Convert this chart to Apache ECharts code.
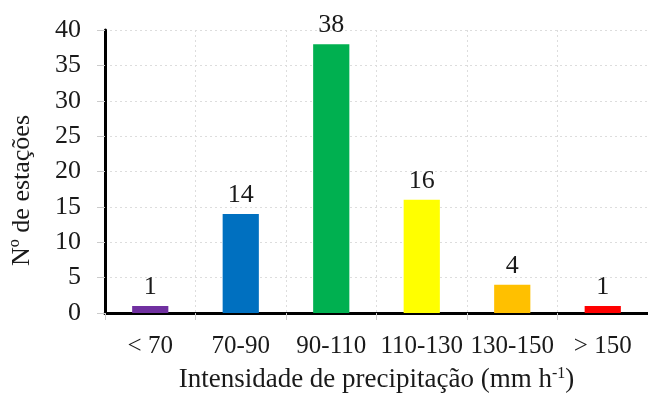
<!DOCTYPE html>
<html><head><meta charset="utf-8">
<script src="https://cdn.jsdelivr.net/npm/echarts@6/dist/echarts.min.js"></script>
<style>html,body{margin:0;padding:0;background:#fff}#c{width:648px;height:398px}</style>
</head><body><div id="c"></div>
<script>
const categories = ['< 70', '70-90', '90-110', '110-130', '130-150', '> 150'];
const counts = [1, 14, 38, 16, 4, 1];
const barColors = ['#7030A0', '#0070C0', '#00B050', '#FFFF00', '#FFC000', '#FF0000'];
const yTicks = [0, 5, 10, 15, 20, 25, 30, 35, 40];

const font = 'Liberation Serif, Times New Roman, serif';
const txt = '#1a1a1a';
const chart = echarts.init(document.getElementById('c'), null, {renderer: 'canvas'});
chart.setOption({
  animation: false,
  grid: {left: 105, top: 30, width: 546, height: 285, containLabel: false},
  xAxis: {
    type: 'category', data: categories,
    axisLine: {lineStyle: {color: '#000', width: 3}},
    axisTick: {show: true, alignWithLabel: false, length: 7, lineStyle: {color: '#ccc'}},
    axisLabel: {color: txt, fontFamily: font, fontSize: 25, margin: 21, interval: 0},
    splitLine: {show: true, lineStyle: {color: '#ddd', type: [2, 3]}},
    name: '{a|Intensidade de precipitação (mm h}{s|-1}{a|)}',
    nameLocation: 'middle', nameGap: 53,
    nameTextStyle: {
      fontFamily: font, color: txt,
      rich: {a: {fontFamily: font, fontSize: 27, color: txt},
             s: {fontFamily: font, fontSize: 16, color: txt, verticalAlign: 'top', padding: [0, 0, 10, 0]}}
    }
  },
  yAxis: {
    type: 'value', min: yTicks[0], max: yTicks[yTicks.length - 1], interval: 5,
    axisLine: {show: true, lineStyle: {color: '#000', width: 3}},
    axisTick: {show: true, length: 8, lineStyle: {color: '#ccc'}},
    axisLabel: {color: txt, fontFamily: font, fontSize: 26, margin: 24},
    splitLine: {show: true, lineStyle: {color: '#ddd', type: [2, 3]}},
    name: 'Nº de estações', nameLocation: 'middle', nameGap: 70,
    nameTextStyle: {fontFamily: font, fontSize: 26, color: txt, verticalAlign: 'bottom', padding: [0, 38, 0, 0]}
  },
  series: [{
    type: 'bar', barWidth: '40%',
    data: counts.map((v, i) => ({value: v, itemStyle: {color: barColors[i]}})),
    label: {show: true, position: 'top', distance: 6, color: txt, fontFamily: font, fontSize: 26}
  }]
});
</script></body></html>
